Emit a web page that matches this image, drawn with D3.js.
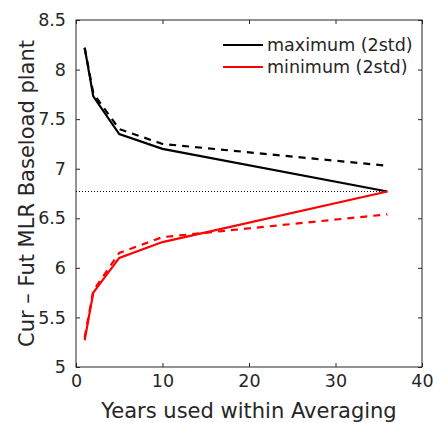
<!DOCTYPE html>
<html>
<head>
<meta charset="utf-8">
<script src="https://cdn.jsdelivr.net/npm/d3@7"></script>
<style>
  body { margin: 0; background: #fff; }
  text { font-family: "DejaVu Sans", sans-serif; fill: #262626; }
</style>
</head>
<body>
<svg id="chart"></svg>
<script>
// chart size
const width = 433;
const height = 423;
const margin = {top: 20, right: 11, bottom: 56, left: 76};

// data
const years = [1, 2, 5, 10, 36];
const maxSolid = [8.22, 7.73, 7.35, 7.20, 6.77];
const maxDashed = [8.22, 7.76, 7.40, 7.25, 7.03];
const minSolid = [5.27, 5.75, 6.10, 6.26, 6.77];
const minDashed = [5.30, 5.77, 6.15, 6.31, 6.54];
const refLevel = 6.77;
const xTicks = [0, 10, 20, 30, 40];
const yTicks = [5, 5.5, 6, 6.5, 7, 7.5, 8, 8.5];
const legendLabels = ["maximum (2std)", "minimum (2std)"];

const svg = d3.select("#chart").attr("width", width).attr("height", height);

const x = d3.scaleLinear().domain([0, 40]).range([margin.left, width - margin.right]);
const y = d3.scaleLinear().domain([5, 8.5]).range([height - margin.bottom, margin.top]);

const axisColor = "#262626";

// tick marks inside the box, all four sides
function styleAxis(g) {
  g.select(".domain").remove();
  g.selectAll(".tick line").attr("stroke", axisColor);
  g.selectAll(".tick text").attr("font-size", 17.5).attr("fill", axisColor);
}

svg.append("g")
  .attr("transform", `translate(0,${height - margin.bottom})`)
  .call(d3.axisBottom(x).tickValues(xTicks).tickSizeInner(-4).tickPadding(8).tickFormat(d3.format("d")))
  .call(styleAxis);

svg.append("g")
  .attr("transform", `translate(0,${margin.top})`)
  .call(d3.axisTop(x).tickValues(xTicks).tickSizeInner(-4).tickFormat(""))
  .call(styleAxis);

svg.append("g")
  .attr("transform", `translate(${margin.left},0)`)
  .call(d3.axisLeft(y).tickValues(yTicks).tickSizeInner(-4).tickPadding(10).tickFormat(d => d))
  .call(styleAxis);

svg.append("g")
  .attr("transform", `translate(${width - margin.right},0)`)
  .call(d3.axisRight(y).tickValues(yTicks).tickSizeInner(-4).tickFormat(""))
  .call(styleAxis);

// box
svg.append("rect")
  .attr("x", margin.left).attr("y", margin.top)
  .attr("width", width - margin.left - margin.right)
  .attr("height", height - margin.top - margin.bottom)
  .attr("fill", "none").attr("stroke", axisColor).attr("stroke-width", 1);

// dotted reference line
svg.append("line")
  .attr("x1", x(0)).attr("x2", x(36))
  .attr("y1", y(refLevel)).attr("y2", y(refLevel))
  .attr("stroke", "#000").attr("stroke-width", 1).attr("stroke-dasharray", "1,2");

const line = d3.line().x((d, i) => x(years[i])).y(d => y(d));

const series = [
  {vals: maxDashed, color: "#000", dash: "7,6"},
  {vals: minDashed, color: "#ff0000", dash: "7,6"},
  {vals: maxSolid, color: "#000", dash: null},
  {vals: minSolid, color: "#ff0000", dash: null}
];

svg.append("g").selectAll("path")
  .data(series).enter().append("path")
  .attr("d", d => line(d.vals))
  .attr("fill", "none")
  .attr("stroke", d => d.color)
  .attr("stroke-width", 2.2)
  .attr("stroke-dasharray", d => d.dash);

// legend (no box)
const legend = svg.append("g");
const legendColors = ["#000", "#ff0000"];
legendLabels.forEach((lbl, i) => {
  const ly = 45 + i * 22;
  legend.append("line")
    .attr("x1", 223).attr("x2", 263).attr("y1", ly).attr("y2", ly)
    .attr("stroke", legendColors[i]).attr("stroke-width", 2);
  legend.append("text")
    .attr("x", 267).attr("y", ly + 6)
    .attr("font-size", 17.5)
    .text(lbl);
});

// axis labels
svg.append("text")
  .attr("x", (margin.left + width - margin.right) / 2)
  .attr("y", 418)
  .attr("text-anchor", "middle")
  .attr("font-size", 21)
  .text("Years used within Averaging");

svg.append("text")
  .attr("transform", `translate(34,${(margin.top + height - margin.bottom) / 2}) rotate(-90)`)
  .attr("text-anchor", "middle")
  .attr("font-size", 21)
  .text("Cur – Fut MLR Baseload plant");
</script>
</body>
</html>
